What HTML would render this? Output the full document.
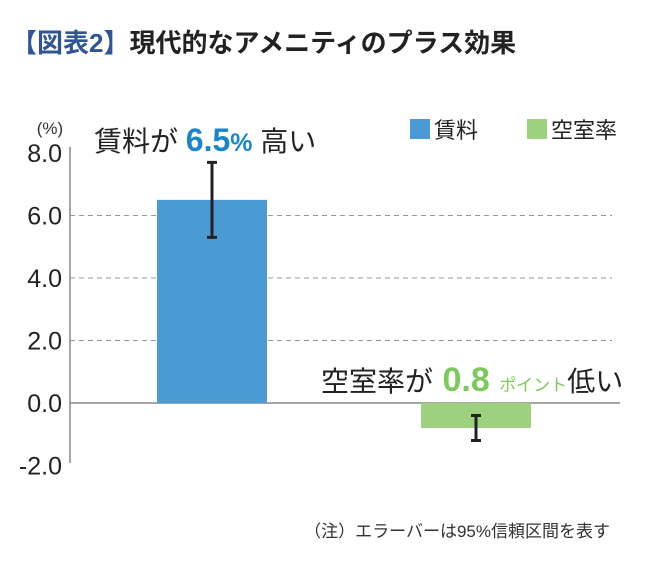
<!DOCTYPE html>
<html><head><meta charset="utf-8"><style>
html,body{margin:0;padding:0;background:#fff;}
body{width:650px;height:558px;overflow:hidden;font-family:"Liberation Sans","Noto Sans CJK JP",sans-serif;}
</style></head><body>
<svg width="650" height="558" viewBox="0 0 650 558" style="font-family:'Liberation Sans','Noto Sans CJK JP',sans-serif">
<text x="11" y="52" font-size="26" font-weight="bold"><tspan fill="#2f5597">【図表2】</tspan><tspan fill="#222">現代的なアメニティのプラス効果</tspan></text>
<text x="50" y="134" font-size="17" fill="#333" text-anchor="middle">(%)</text>
<g id="grid"></g>
<g id="bars"></g>
<line x1="70" y1="147" x2="70" y2="463" stroke="#888" stroke-width="1.5"/>
<g id="ticks"></g>
<rect x="410" y="119" width="20" height="20" fill="#4a9ad4"/>
<text x="434" y="138" font-size="22" fill="#222">賃料</text>
<rect x="527" y="119" width="20" height="20" fill="#9dd17d"/>
<text x="551" y="138" font-size="22" fill="#222">空室率</text>
<text x="94" y="151" font-size="28" fill="#222">賃料が <tspan fill="#1a86c8" font-weight="bold" font-size="32">6.5</tspan><tspan fill="#1a86c8" font-weight="bold" font-size="25">%</tspan> 高い</text>
<text x="321" y="391" font-size="28" fill="#222">空室率が<tspan fill="#7dc95b" font-weight="bold" font-size="34"> 0.8 </tspan><tspan fill="#7dc95b" font-size="17">ポイント</tspan>低い</text>
<text x="610" y="537" font-size="17" fill="#333" text-anchor="end">（注）エラーバーは95%信頼区間を表す</text>
</svg>
<script>
const categories = ["賃料", "空室率"];
const values = [6.5, -0.8];
const errLow = [5.3, -1.2];
const errHigh = [7.7, -0.4];
const tickValues = [8, 6, 4, 2, 0, -2];
const tickLabels = ["8.0", "6.0", "4.0", "2.0", "0.0", "-2.0"];
const colors = ["#4a9ad4", "#9dd17d"];
const NS = "http://www.w3.org/2000/svg";
function y(v){ return 403 - v * 31.25; }
function xc(i){ return 212 + i * 264; }
function mk(t, a, p){ const e = document.createElementNS(NS, t); for (const k in a) e.setAttribute(k, a[k]); p.appendChild(e); return e; }
const grid = document.getElementById('grid'), bars = document.getElementById('bars'), ticks = document.getElementById('ticks');
tickValues.forEach((v, i) => {
  if (v > 0 && v < 8) {
    const l = mk('line', {x1:70, x2:612, y1:y(v), y2:y(v), stroke:'#999', 'stroke-dasharray':'5,4', 'stroke-width':1}, grid);
    
    
  }
  const t = mk('text', {x:62, y:y(v) + 9, 'font-size':25, fill:'#222', 'text-anchor':'end'}, ticks);
  t.textContent = tickLabels[i];
  
  
});
const z = mk('line', {x1:70, x2:620, y1:y(0), y2:y(0), stroke:'#888', 'stroke-width':1.5}, grid);


values.forEach((v, i) => {
  const top = Math.min(y(v), y(0)), h = Math.abs(y(v) - y(0));
  const r = mk('rect', {x:xc(i) - 55, y:top, width:110, height:h, fill:colors[i]}, bars);
  
  
  const g = mk('g', {stroke:'#222', 'stroke-width':3}, bars);
  
  
  mk('line', {x1:xc(i), x2:xc(i), y1:y(errLow[i]), y2:y(errHigh[i])}, g);
  mk('line', {x1:xc(i) - 5, x2:xc(i) + 5, y1:y(errLow[i]), y2:y(errLow[i])}, g);
  mk('line', {x1:xc(i) - 5, x2:xc(i) + 5, y1:y(errHigh[i]), y2:y(errHigh[i])}, g);
});
</script>
</body></html>
